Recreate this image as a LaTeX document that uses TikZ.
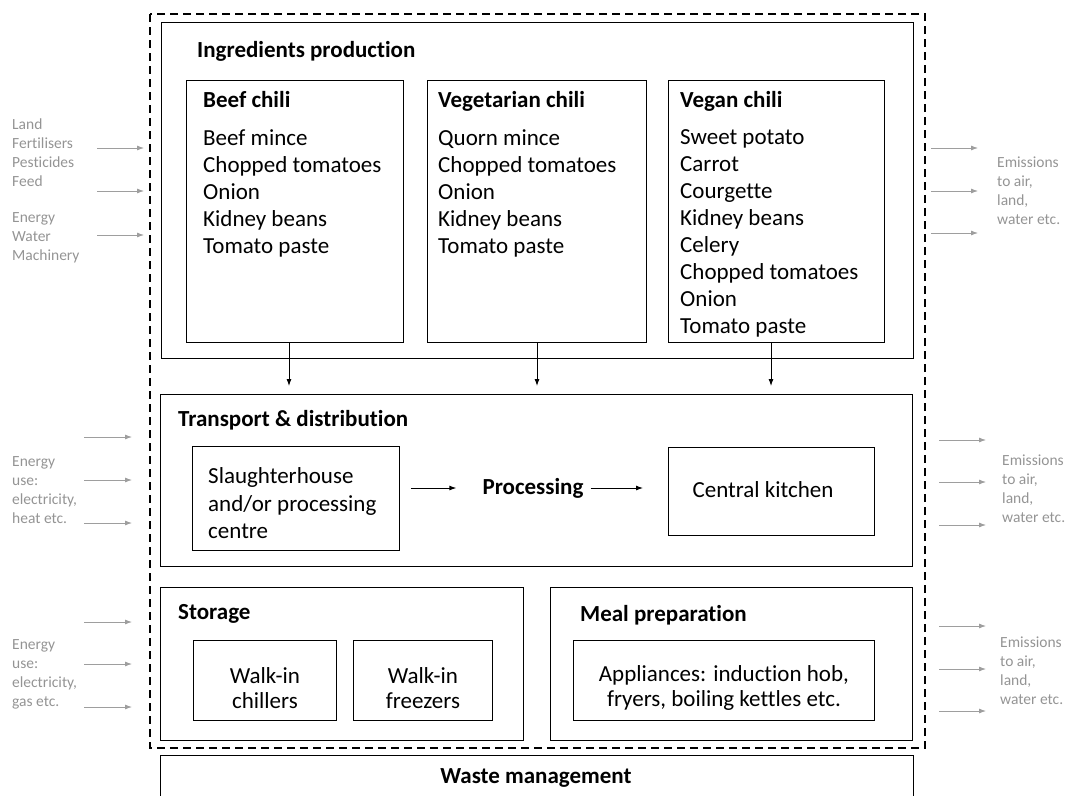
\documentclass[tikz,border=0pt]{standalone}
\usepackage{fontspec}
\setmainfont{Carlito}[RawFeature={-liga}]
\usetikzlibrary{arrows.meta}
\begin{document}
\begin{tikzpicture}[x=1pt,y=-1pt,
  box/.style={draw=black,line width=0.9pt},
  nbox/.style={draw=black,line width=0.9pt,anchor=north west,inner sep=0pt},
  head/.style={anchor=north west,font=\fontsize{23}{27}\selectfont\bfseries,inner sep=0pt},
  item/.style={anchor=north west,font=\fontsize{23}{27}\selectfont,inner sep=0pt,align=left},
  ctext/.style={font=\fontsize{23}{25}\selectfont,inner sep=0pt,align=center},
  gtxt/.style={anchor=north west,font=\fontsize{15.5}{19}\selectfont,text=black!42,inner sep=0pt,align=left},
  garr/.style={draw=black!38,line width=0.8pt,-{Latex[length=7pt,width=5pt]}},
  barr/.style={draw=black,line width=0.9pt,-{Latex[length=7pt,width=5pt]}}]
\useasboundingbox (0,0) rectangle (1068,795);
% outer dashed
\draw[line width=1.7pt,dash pattern=on 8pt off 5pt] (150,14) rectangle (925,748);
% Ingredients production
\draw[box] (161,22) rectangle (913,358);
\node[head] (iph) at (197,41.5) {Ingredients production};
% chili boxes
\draw[box] (186,80) rectangle (403,342);
\coordinate (b1) at (289,342);
\node[head] (beefh) at (203,91.5) {Beef chili};
\node[item] (beef) at (203,129.7) {Beef mince\\Chopped tomatoes\\Onion\\Kidney beans\\Tomato paste};
\draw[box] (427,80) rectangle (646,342);
\coordinate (b2) at (537,342);
\node[head] (vegh) at (438,91.5) {Vegetarian chili};
\node[item] (veg) at (438,129.7) {Quorn mince\\Chopped tomatoes\\Onion\\Kidney beans\\Tomato paste};
\draw[box] (668,80) rectangle (884,342);
\coordinate (b3) at (771,342);
\node[head] (veganh) at (680,91.5) {Vegan chili};
\node[item] (vegan) at (680,129.7) {Sweet potato\\Carrot\\Courgette\\Kidney beans\\Celery\\Chopped tomatoes\\Onion\\Tomato paste};
% Transport
\draw[box] (160,394) rectangle (912,566);
\coordinate (t1) at (289,386);
\coordinate (t2) at (537,386);
\coordinate (t3) at (771,386);
\draw[barr] (b1) -- (t1);
\draw[barr] (b2) -- (t2);
\draw[barr] (b3) -- (t3);
\node[head] (tdh) at (178,410.5) {Transport \& distribution};
\node[nbox,minimum width=207pt,minimum height=104pt] (sh) at (192,446) {};
\node[item,font=\fontsize{23}{27.5}\selectfont] (sht) at (208,467.7) {Slaughterhouse\\and/or processing\\centre};
\node[font=\fontsize{23}{27}\selectfont\bfseries,inner sep=0pt] (proc) at (533,488) {Processing};
\node[nbox,minimum width=206pt,minimum height=88pt] (ck) at (668,447) {};
\node[ctext] (ckt) at (763,490) {Central kitchen};
\draw[barr] ([xshift=11pt]sh.east |- proc) -- ([xshift=-26pt]proc.west);
\draw[barr] ([xshift=7pt]proc.east) -- ([xshift=-25pt]ck.west |- proc);
% Storage
\draw[box] (160,587) rectangle (523,740);
\node[head] (sth) at (178,604.5) {Storage};
\node[nbox,minimum width=143pt,minimum height=80pt] (wc) at (193,640) {};
\node[ctext] (wct) at ([yshift=-7.5pt]wc.center) {Walk-in\\chillers};
\node[nbox,minimum width=139pt,minimum height=80pt] (wf) at (353,640) {};
\node[ctext] (wft) at ([yshift=-7.5pt]wf.center) {Walk-in\\freezers};
% Meal preparation
\draw[box] (550,587) rectangle (912,740);
\node[head] (mph) at (580,605.5) {Meal preparation};
\node[nbox,minimum width=301pt,minimum height=80pt] (ap) at (573,640) {};
\node[ctext] (apt) at ([yshift=-7.5pt]ap.center) {Appliances: induction hob,\\fryers, boiling kettles etc.};
% Waste management
\draw[box] (160,800) -- (160,755) -- (913,755) -- (913,800);
\node[font=\fontsize{23}{27}\selectfont\bfseries,inner sep=0pt] (wm) at (536,778) {Waste management};
% left inputs block 1
\node[gtxt] (in1) at (12,118.5) {Land\\Fertilisers\\Pesticides\\Feed};
\node[gtxt] (in1b) at (12,212.5) {Energy\\Water\\Machinery};
\coordinate (l1a) at (97,148); \coordinate (l1ae) at (144,148);
\coordinate (l1b) at (97,191); \coordinate (l1be) at (144,191);
\coordinate (l1c) at (97,235); \coordinate (l1ce) at (144,235);
\draw[garr] (l1a) -- (l1ae); \draw[garr] (l1b) -- (l1be); \draw[garr] (l1c) -- (l1ce);
% right outputs block 1
\node[gtxt] (out1) at (997,156.5) {Emissions\\to air,\\land,\\water etc.};
\coordinate (r1a) at (931,148); \coordinate (r1ae) at (978,148);
\coordinate (r1b) at (931,191); \coordinate (r1be) at (978,191);
\coordinate (r1c) at (931,233); \coordinate (r1ce) at (978,233);
\draw[garr] (r1a) -- (r1ae); \draw[garr] (r1b) -- (r1be); \draw[garr] (r1c) -- (r1ce);
% left block 2
\node[gtxt] (in2) at (12,456.5) {Energy\\use:\\electricity,\\heat etc.};
\coordinate (l2a) at (84,437); \coordinate (l2ae) at (132,437);
\coordinate (l2b) at (84,480); \coordinate (l2be) at (132,480);
\coordinate (l2c) at (84,523); \coordinate (l2ce) at (132,523);
\draw[garr] (l2a) -- (l2ae); \draw[garr] (l2b) -- (l2be); \draw[garr] (l2c) -- (l2ce);
% right block 2
\node[gtxt] (out2) at (1002,454.5) {Emissions\\to air,\\land,\\water etc.};
\coordinate (r2a) at (939,440); \coordinate (r2ae) at (986,440);
\coordinate (r2b) at (939,482); \coordinate (r2be) at (986,482);
\coordinate (r2c) at (939,525); \coordinate (r2ce) at (986,525);
\draw[garr] (r2a) -- (r2ae); \draw[garr] (r2b) -- (r2be); \draw[garr] (r2c) -- (r2ce);
% left block 3
\node[gtxt] (in3) at (12,639.5) {Energy\\use:\\electricity,\\gas etc.};
\coordinate (l3a) at (84,622); \coordinate (l3ae) at (132,622);
\coordinate (l3b) at (84,664); \coordinate (l3be) at (132,664);
\coordinate (l3c) at (84,707); \coordinate (l3ce) at (132,707);
\draw[garr] (l3a) -- (l3ae); \draw[garr] (l3b) -- (l3be); \draw[garr] (l3c) -- (l3ce);
% right block 3
\node[gtxt] (out3) at (1000,636.5) {Emissions\\to air,\\land,\\water etc.};
\coordinate (r3a) at (939,626); \coordinate (r3ae) at (986,626);
\coordinate (r3b) at (939,669); \coordinate (r3be) at (986,669);
\coordinate (r3c) at (939,711); \coordinate (r3ce) at (986,711);
\draw[garr] (r3a) -- (r3ae); \draw[garr] (r3b) -- (r3be); \draw[garr] (r3c) -- (r3ce);
\end{tikzpicture}
\end{document}
